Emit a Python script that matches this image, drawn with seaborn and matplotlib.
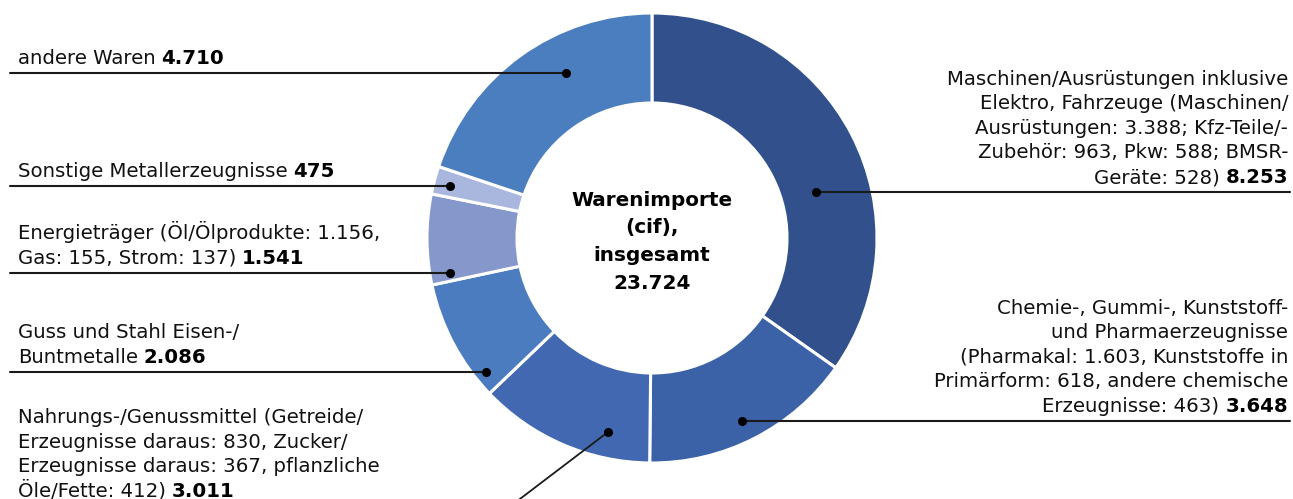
import matplotlib
matplotlib.use("Agg")
import matplotlib.pyplot as plt
import seaborn as sns

# Daten (Mio. Euro)
kategorien = ["Maschinen", "Chemie", "Nahrung", "Guss", "Energie", "Sonstige", "Andere"]
werte = [8253, 3648, 3011, 2086, 1541, 475, 4710]
farben = ["#32518c", "#3b61a7", "#4168b0", "#4a7cbf", "#8597cb", "#a9b6dd", "#4a7ebf"]
beschriftungen = [
    ["Maschinen/Ausrüstungen inklusive", "Elektro, Fahrzeuge (Maschinen/",
     "Ausrüstungen: 3.388; Kfz-Teile/-", "Zubehör: 963, Pkw: 588; BMSR-", "Geräte: 528)"],
    ["Chemie-, Gummi-, Kunststoff-", "und Pharmaerzeugnisse", "(Pharmakal: 1.603, Kunststoffe in",
     "Primärform: 618, andere chemische", "Erzeugnisse: 463)"],
    ["Nahrungs-/Genussmittel (Getreide/", "Erzeugnisse daraus: 830, Zucker/",
     "Erzeugnisse daraus: 367, pflanzliche", "Öle/Fette: 412)"],
    ["Guss und Stahl Eisen-/", "Buntmetalle"],
    ["Energieträger (Öl/Ölprodukte: 1.156,", "Gas: 155, Strom: 137)"],
    ["Sonstige Metallerzeugnisse"],
    ["andere Waren"],
]
titel = ["Warenimporte", "(cif),", "insgesamt"]

# Layout in Pixeln: Seite, Höhe der Führungslinie, Ankerpunkt
layout = {
    "Maschinen": ("r", 192, (816, 192)),
    "Chemie": ("r", 421, (742, 421)),
    "Nahrung": ("l", 506, (608, 432)),
    "Guss": ("l", 372, (486, 372)),
    "Energie": ("l", 273, (450, 273)),
    "Sonstige": ("l", 186, (450, 186)),
    "Andere": ("l", 73, (566, 73)),
}

def fmt(v):
    return f"{v:,}".replace(",", ".")

sns.set_theme(style="white")
plt.rcParams["font.family"] = ["DejaVu Sans"]

W, H = 1293, 499
fig = plt.figure(figsize=(W / 100, H / 100), dpi=100)
ax = fig.add_axes([0, 0, 1, 1])

cx, cy, R = 652, 238, 225
ax.pie(werte, colors=farben, startangle=-90, counterclock=True, center=(cx, cy), radius=R,
       frame=True, wedgeprops=dict(width=R * 0.4, edgecolor="white", linewidth=2.2))
ax.set_xlim(0, W)
ax.set_ylim(H, 0)
ax.set_aspect("auto")
ax.axis("off")

fs = 14.2
lh = 24.6
gap = fs * 1.389 * 0.3
renderer = fig.canvas.get_renderer()

def breite(t):
    return t.get_window_extent(renderer).width

for kat, wert, zeilen in zip(kategorien, werte, beschriftungen):
    seite, ly, (dx, dy) = layout[kat]
    n = len(zeilen)
    basis = [ly - 9 - lh * (n - 1 - i) for i in range(n)]
    if kat == "Nahrung":
        basis = [423 + lh * i for i in range(n)]
    if seite == "l":
        x0 = 18
        for i, z in enumerate(zeilen):
            t = ax.text(x0, basis[i], z, fontsize=fs, ha="left", va="baseline", color="#111111")
        w = breite(t)
        ax.text(x0 + w + gap, basis[-1], fmt(wert), fontsize=fs, fontweight="bold",
                ha="left", va="baseline", color="#000000")
    else:
        xr = 1288
        for i, z in enumerate(zeilen[:-1]):
            ax.text(xr, basis[i], z, fontsize=fs, ha="right", va="baseline", color="#111111")
        b = ax.text(xr, basis[-1], fmt(wert), fontsize=fs, fontweight="bold",
                    ha="right", va="baseline", color="#000000")
        ax.text(xr - breite(b) - gap, basis[-1], zeilen[-1], fontsize=fs, ha="right",
                va="baseline", color="#111111")

    # Führungslinien
    if kat == "Nahrung":
        ax.plot([dx, dx - 87.7 * 1.2], [dy, dy + 66.7 * 1.2], color="#1a1a1a", lw=1.3,
                solid_capstyle="butt")
    elif seite == "l":
        ax.plot([10, dx], [ly, ly], color="#1a1a1a", lw=1.5)
    else:
        ax.plot([dx, 1290], [ly, ly], color="#1a1a1a", lw=1.5)
    ax.plot(dx, dy, "o", color="#000000", markersize=5.5)

# Mitte
mitte = titel + [fmt(sum(werte))]
for i, z in enumerate(mitte):
    ax.text(cx, 200 + 27.7 * i, z, fontsize=14.4, fontweight="bold", ha="center",
            va="center", color="#000000")

fig.savefig("out.png", dpi=100)
